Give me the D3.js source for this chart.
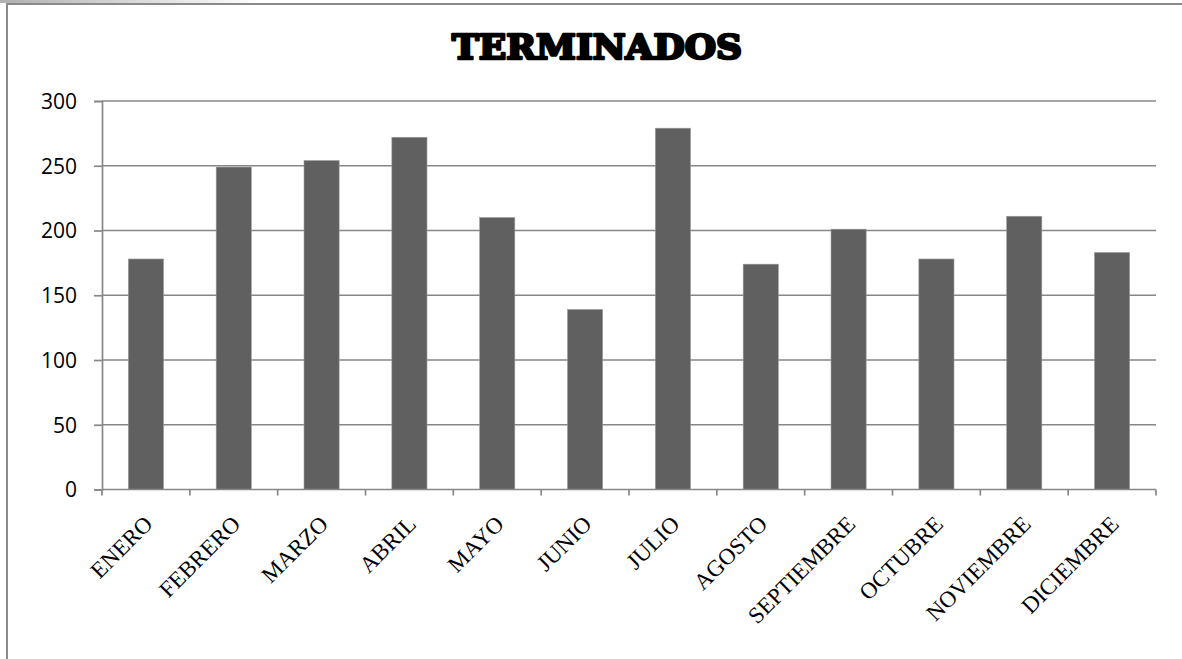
<!DOCTYPE html>
<html>
<head>
<meta charset="utf-8">
<script src="https://cdn.jsdelivr.net/npm/d3@7"></script>
<style>
  html, body { margin: 0; padding: 0; background: #fff; }
  svg { display: block; }
</style>
</head>
<body>
<svg id="chart" width="1182" height="659"></svg>
<script>
const categories = ["ENERO","FEBRERO","MARZO","ABRIL","MAYO","JUNIO","JULIO","AGOSTO","SEPTIEMBRE","OCTUBRE","NOVIEMBRE","DICIEMBRE"];
const values = [178, 249, 254, 272, 210, 139, 279, 174, 201, 178, 211, 183];
const yTicks = [0, 50, 100, 150, 200, 250, 300];
const title = "TERMINADOS";

const svg = d3.select("#chart");
const W = 1182, H = 659;
const m = { left: 102, right: 1156, top: 101, bottom: 489.5 };

// frame
const grad = svg.append("defs").append("linearGradient").attr("id", "topfade")
  .attr("x1", "0").attr("x2", "1").attr("y1", "0").attr("y2", "0");
grad.append("stop").attr("offset", "0").attr("stop-color", "#b0b0b0");
grad.append("stop").attr("offset", "1").attr("stop-color", "#ffffff");
svg.append("rect").attr("x", 0).attr("y", 0).attr("width", 260).attr("height", 3).attr("fill", "url(#topfade)");
svg.append("line").attr("x1", 6).attr("x2", W).attr("y1", 4).attr("y2", 4)
  .attr("stroke", "#8a8a8a").attr("stroke-width", 2);
svg.append("line").attr("x1", 7).attr("x2", 7).attr("y1", 3).attr("y2", H)
  .attr("stroke", "#8a8a8a").attr("stroke-width", 2);

const x = d3.scaleBand().domain(categories).range([m.left, m.right]).paddingInner(0.6).paddingOuter(0.3);
const xb = d3.scaleBand().domain(categories).range([m.left, m.right]);
const y = d3.scaleLinear().domain([0, 300]).range([m.bottom, m.top]);

// gridlines
svg.append("g").selectAll("line").data(yTicks.filter(d => d > 0)).join("line")
  .attr("x1", m.left).attr("x2", m.right)
  .attr("y1", d => y(d)).attr("y2", d => y(d))
  .attr("stroke", "#878787").attr("stroke-width", 1.7);

// bars
svg.append("g").selectAll("rect").data(values).join("rect")
  .attr("x", (d, i) => x(categories[i]))
  .attr("width", x.bandwidth())
  .attr("y", d => y(d))
  .attr("height", d => y(0) - y(d))
  .attr("fill", "#606060")
  .attr("stroke", "#9a9a9a").attr("stroke-width", 0.6);

// y axis
const yAxis = d3.axisLeft(y).tickValues(yTicks).tickSize(8).tickPadding(17).tickFormat(d3.format("d"));
const gy = svg.append("g").attr("transform", `translate(${m.left},0)`).call(yAxis);
gy.select(".domain").attr("stroke", "#878787").attr("stroke-width", 1.7);
gy.selectAll(".tick line").attr("stroke", "#878787").attr("stroke-width", 1.7);
gy.selectAll(".tick text").attr("font-family", "'Open Sans', 'Liberation Sans', sans-serif")
  .attr("font-size", 21).attr("fill", "#000").attr("dy", "0.35em");

// x axis baseline and ticks at band boundaries
const boundaries = categories.map(c => xb(c)).concat([m.right]);
svg.append("line").attr("x1", m.left).attr("x2", m.right).attr("y1", y(0)).attr("y2", y(0))
  .attr("stroke", "#878787").attr("stroke-width", 1.7);
svg.append("g").selectAll("line").data(boundaries).join("line")
  .attr("x1", d => d).attr("x2", d => d)
  .attr("y1", y(0)).attr("y2", y(0) + 6)
  .attr("stroke", "#878787").attr("stroke-width", 1.7);

// x labels
svg.append("g").selectAll("text").data(categories).join("text")
  .attr("transform", d => `translate(${xb(d) + xb.bandwidth() / 2 + 8},${y(0) + 36}) rotate(-45)`)
  .attr("text-anchor", "end")
  .attr("font-family", "'Liberation Serif', 'Times New Roman', serif")
  .attr("font-size", 23).attr("fill", "#000")
  .text(d => d);

// title
svg.append("text")
  .attr("x", 597).attr("y", 59)
  .attr("text-anchor", "middle")
  .attr("font-family", "'DejaVu Serif', serif")
  .attr("font-weight", "bold")
  .attr("font-size", 34)
  .attr("textLength", 290).attr("lengthAdjust", "spacingAndGlyphs")
  .attr("fill", "#000").attr("stroke", "#000").attr("stroke-width", 2.6)
  .attr("stroke-linejoin", "round")
  .text(title);
</script>
</body>
</html>
